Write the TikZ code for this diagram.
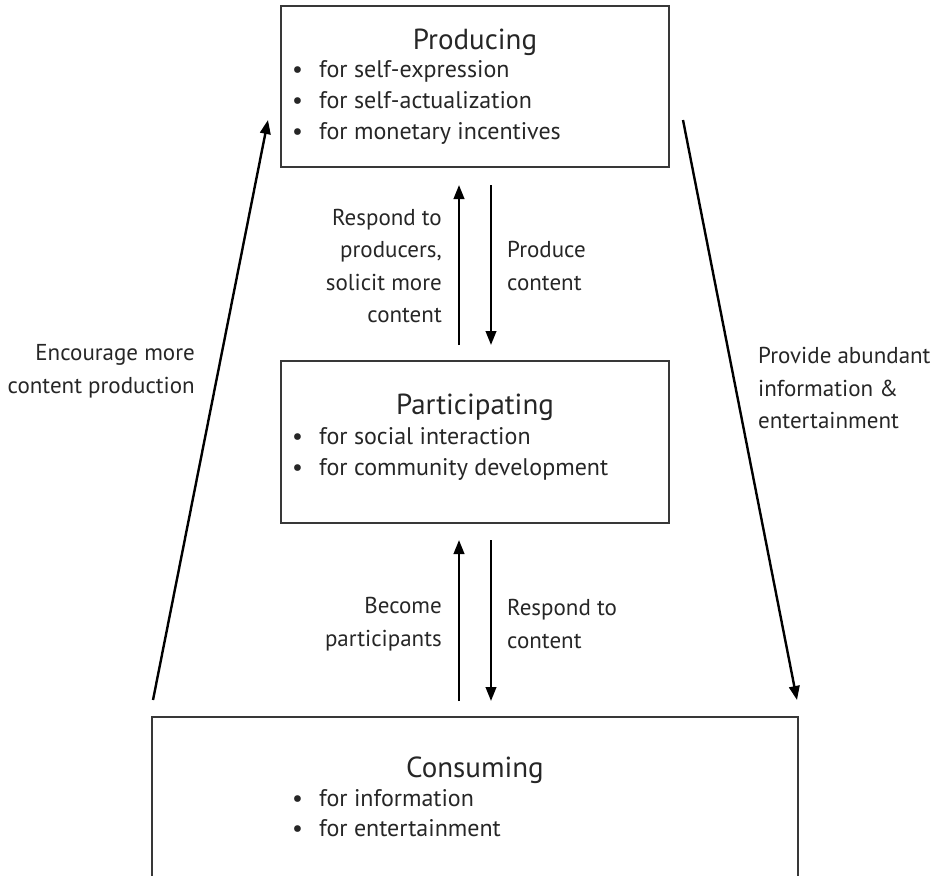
\documentclass[tikz,border=0pt]{standalone}
\usepackage{fontspec}
\setmainfont{PT Sans}
\usetikzlibrary{arrows.meta}
\newcommand{\bul}{\makebox[27pt][l]{\textbullet}}
\begin{document}
\begin{tikzpicture}[x=1pt,y=-1pt,
  box/.style={draw=black!78, line width=2.2pt, inner sep=0pt},
  ttl/.style={font=\fontsize{29}{32}\selectfont, inner sep=0pt, anchor=base, text=black!85},
  item/.style={font=\fontsize{24}{27}\selectfont, inner sep=0pt, anchor=base west, text=black!85},
  lbl/.style={font=\fontsize{23}{32.5}\selectfont, inner sep=0pt, text=black!85},
  arr/.style={-{Triangle[length=14pt,width=10.5pt]}, line width=2.4pt, black}]
\useasboundingbox (0,0) rectangle (935,876);
\clip (0,0) rectangle (935,876);

% the three stages
\node[box, minimum width=388pt, minimum height=161pt] (prod) at (475,86.5) {};
\node[box, minimum width=388pt, minimum height=162pt] (part) at (475,442) {};
\node[box, minimum width=646pt, minimum height=220pt] (cons) at (475,827) {};

% Producing
\node[ttl] (prodT) at (475,49) {Producing};
\node[item] (pi1) at (292,77) {\bul for self-expression};
\node[item] (pi2) at (292,108) {\bul for self-actualization};
\node[item] (pi3) at (292,139) {\bul for monetary incentives};

% Participating
\node[ttl] (partT) at (475,414) {Participating};
\node[item] (qi1) at (292,444) {\bul for social interaction};
\node[item] (qi2) at (292,475) {\bul for community development};

% Consuming
\node[ttl] (consT) at (475,777) {Consuming};
\node[item] (ci1) at (292,806) {\bul for information};
\node[item] (ci2) at (292,836) {\bul for entertainment};

% arrows between Producing and Participating
\coordinate (u1s) at (459,345);
\coordinate (u1e) at (459,185);
\coordinate (d1s) at (491,185);
\coordinate (d1e) at (491,345);
\draw[arr] (u1s) -- (u1e);
\draw[arr] (d1s) -- (d1e);
\node[lbl, align=right, anchor=east] (l1) at (442,266) {Respond to\\producers,\\solicit more\\content};
\node[lbl, align=left, anchor=west] (l2) at (507,266) {Produce\\content};

% arrows between Participating and Consuming
\coordinate (u2s) at (459,701);
\coordinate (u2e) at (459,540);
\coordinate (d2s) at (491,540);
\coordinate (d2e) at (491,701);
\draw[arr] (u2s) -- (u2e);
\draw[arr] (d2s) -- (d2e);
\node[lbl, align=right, anchor=east] (l3) at (442,624) {Become\\participants};
\node[lbl, align=left, anchor=west] (l4) at (507,624) {Respond to\\content};

% outer loop
\coordinate (ls) at (153,700);
\coordinate (le) at (268,120);
\coordinate (rs) at (683,120);
\coordinate (re) at (797,700);
\draw[arr] (ls) -- (le);
\draw[arr] (rs) -- (re);
\node[lbl, align=right, anchor=east] (l5) at (195,371) {Encourage more\\content production};
\node[lbl, align=left, anchor=west] (l6) at (758,388) {Provide abundant\\information \&\\entertainment};
\end{tikzpicture}
\end{document}
